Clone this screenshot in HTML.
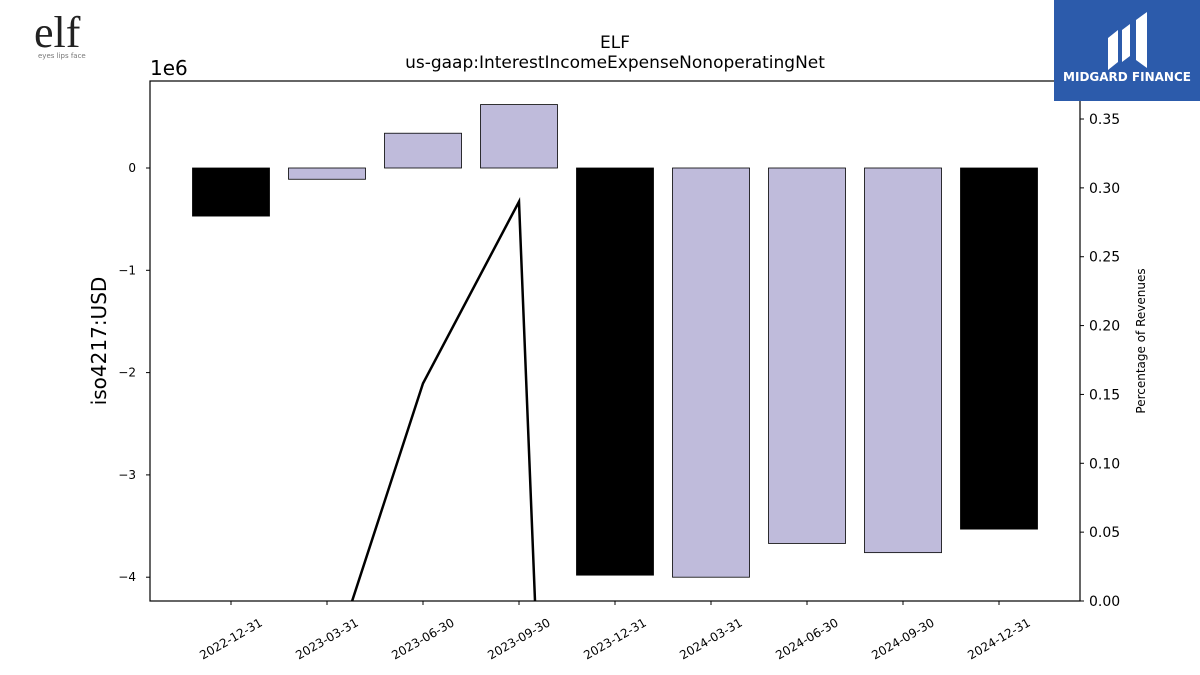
<!DOCTYPE html>
<html><head><meta charset="utf-8"><style>
html,body{margin:0;background:#fff;font-family:"Liberation Sans","DejaVu Sans",sans-serif;width:1200px;height:675px;overflow:hidden}
#wrap{position:relative;width:1200px;height:675px;overflow:hidden}
svg{display:block}
</style></head><body>
<div id="wrap">
<svg id="chart" width="1200" height="675" font-family="DejaVu Sans, Liberation Sans, sans-serif"></svg>
</div>
<script>
const categories=["2022-12-31","2023-03-31","2023-06-30","2023-09-30","2023-12-31","2024-03-31","2024-06-30","2024-09-30","2024-12-31"];
const barValues=[-0.47e6,-0.11e6,0.34e6,0.62e6,-3.98e6,-4.0e6,-3.67e6,-3.76e6,-3.53e6];
const barDark=[true,false,false,false,true,false,false,false,true];
const pctValues=[-0.2,-0.056,0.158,0.29,-1.45,-1.4,-1.4,-1.4,-1.4];
const leftTicks=[0,-1,-2,-3,-4];
const leftTickLabels=["0","\u22121","\u22122","\u22123","\u22124"];
const rightTicks=[0,0.05,0.1,0.15,0.2,0.25,0.3,0.35];
const rightTickLabels=["0.00","0.05","0.10","0.15","0.20","0.25","0.30","0.35"];

const NS="http://www.w3.org/2000/svg";
const svg=document.getElementById('chart');
const L=150,R=1080,T=81,B=601;
const yL=v=>168-v/1e6*102.3;
const yR=v=>601-v*1377.1;
const xI=i=>231+96*i;
function mk(tag,attrs,parent){const e=document.createElementNS(NS,tag);for(const k in attrs)e.setAttribute(k,attrs[k]);(parent||svg).appendChild(e);return e;}

const defs=mk('defs',{});const cp=mk('clipPath',{id:'pc'},defs);mk('rect',{x:L,y:T,width:R-L,height:B-T},cp);

const gb=mk('g',{'clip-path':'url(#pc)'});

barValues.forEach((v,i)=>{
 const y0=yL(0),y1=yL(v);
 const r=mk('rect',{x:xI(i)-38.5,y:Math.min(y0,y1),width:77,height:Math.abs(y1-y0),fill:barDark[i]?'#000':'#bfbbdb',stroke:'#000','stroke-width':0.8},gb);
 
 
});
const gl=mk('g',{'clip-path':'url(#pc)'});
const pl=mk('polyline',{points:pctValues.map((v,i)=>xI(i)+','+yR(v)).join(' '),fill:'none',stroke:'#000','stroke-width':2.5},gl);



const fr=mk('rect',{x:L,y:T,width:R-L,height:B-T,fill:'none',stroke:'#000','stroke-width':1.2});


leftTicks.forEach((t,i)=>{
 const y=yL(t*1e6);
 mk('line',{x1:L-4,x2:L,y1:y,y2:y,stroke:'#000'});
 const tx=mk('text',{x:L-14,y:y+4,'text-anchor':'end','font-size':12});tx.textContent=leftTickLabels[i];
 
});
rightTicks.forEach((t,i)=>{
 const y=yR(t);
 mk('line',{x1:R,x2:R+4,y1:y,y2:y,stroke:'#000'});
 const tx=mk('text',{x:R+9,y:y+5,'font-size':14});tx.textContent=rightTickLabels[i];
 
});
categories.forEach((c,i)=>{
 const x=xI(i);
 mk('line',{x1:x,x2:x,y1:B,y2:B+4,stroke:'#000'});
 const cx=x,cy=B+38;
 const tx=mk('text',{x:cx,y:cy+4,'text-anchor':'middle','font-size':12,transform:`rotate(-30 ${cx} ${cy})`});tx.textContent=c;
 
});
function txt(s,a,name){const e=mk('text',a);e.textContent=s;return e;}
txt('1e6',{x:150,y:75,'font-size':20},'y-scale-label');
txt('iso4217:USD',{x:106,y:341,'font-size':20,'text-anchor':'middle',transform:'rotate(-90 106 341)'},'y-axis-title');
txt('Percentage of Revenues',{x:1145,y:341,'font-size':12,'text-anchor':'middle',transform:'rotate(-90 1145 341)'},'right-axis-title');
txt('ELF',{x:615,y:48,'font-size':17,'text-anchor':'middle'},'chart-title');
txt('us-gaap:InterestIncomeExpenseNonoperatingNet',{x:615,y:68,'font-size':17,'text-anchor':'middle'},'chart-subtitle');
txt('elf',{x:34,y:47,'font-size':44,'font-family':'Liberation Serif, serif',fill:'#222'},'elf-logo');
txt('eyes lips face',{x:38,y:58,'font-size':7,fill:'#777'},'elf-tagline');
const mb=mk('rect',{x:1054,y:0,width:146,height:101,fill:'#2c5bab'});

mk('path',{d:'M1108 70 V38 L1118 30 V62 Z M1122 62 V30 L1130 24 V56 Z M1136 60 V20 L1147 12 V68 Z',fill:'#fff'});
txt('MIDGARD FINANCE',{x:1127,y:81,'font-size':12,'font-weight':'bold',fill:'#fff','text-anchor':'middle'},'midgard-text');
</script>
</body></html>
